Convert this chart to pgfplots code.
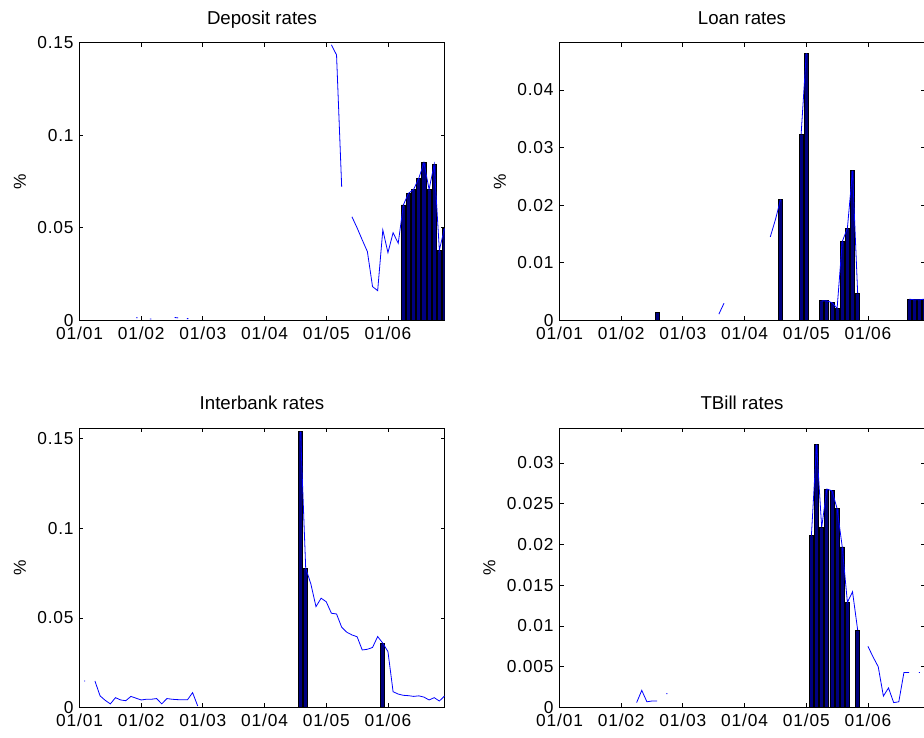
\documentclass[border=0pt]{standalone}
\usepackage{fontspec}
\setmainfont{Liberation Sans}
\newfontfamily\tickfont[LetterSpace=5]{Liberation Sans}
\usepackage{pgfplots}
\usepackage{pgfplotstable}
\pgfplotsset{compat=1.18}

\definecolor{lineblue}{rgb}{0,0,1}
\definecolor{barnavy}{rgb}{0,0,0.5}

% month index: 0 = Jan 2001
\pgfplotstableread{
m v
11.0 0.0015
11.3 0.0015
12 nan
13.7 0.0008
14.0 0.0008
15 nan
18.5 0.0016
19.2 0.0014
20 nan
20.9 0.0010
21.2 0.0010
22 nan
49 0.1488
50 0.1434
51 0.0722
52 nan
53 0.0560
54 0.0500
55 0.0435
56 0.0372
57 0.0183
58 0.0161
59 0.0489
60 0.0366
61 0.0474
62 0.0417
63 0.0624
64 0.0687
65 0.0708
66 0.0768
67 0.0852
68 0.0708
69 0.0843
70 0.0380
71 0.0498
}\depline
\pgfplotstableread{
m v
63 0.0624
64 0.0687
65 0.0708
66 0.0768
67 0.0852
68 0.0708
69 0.0843
70 0.0380
71 0.0498
}\depbars

\pgfplotstableread{
m v
31 0.0011
32 0.0030
33 nan
41 0.0145
42 0.0175
43 0.0210
44 nan
47 0.0323
48 0.0464
49 nan
51 0.0034
52 0.0034
53 0.0031
54 0.0021
55 0.0137
56 0.0160
57 0.0260
58 0.0047
59 nan
68 0.0037
69 0.0036
70 0.0036
71 0.0037
}\loanline
\pgfplotstableread{
m v
19 0.00135
43 0.0210
47 0.0323
48 0.0464
51 0.00344
52 0.00344
53 0.00315
54 0.00205
55 0.01368
56 0.0160
57 0.0260
58 0.00472
68 0.0037
69 0.0036
70 0.0036
71 0.0037
}\loanbars

\pgfplotstableread{
m v
0.9 0.0148
1.1 0.0148
2 nan
3 0.0148
4 0.0065
5 0.0040
6 0.0020
7 0.0055
8 0.0042
9 0.0038
10 0.0062
11 0.0052
12 0.0042
13 0.0046
14 0.0046
15 0.0050
16 0.0020
17 0.0050
18 0.0046
19 0.0044
20 0.0043
21 0.0043
22 0.0083
23 0.0008
24 nan
43 0.1540
44 0.0778
45 0.0690
46 0.0563
47 0.0610
48 0.0590
49 0.0526
50 0.0522
51 0.0448
52 0.0420
53 0.0405
54 0.0395
55 0.0321
56 0.0325
57 0.0335
58 0.0396
59 0.0359
60 0.0312
61 0.0088
62 0.0075
63 0.0068
64 0.0066
65 0.0062
66 0.0065
67 0.0058
68 0.0042
69 0.0055
70 0.0036
71 0.0064
}\ibline
\pgfplotstableread{
m v
43 0.1539
44 0.0778
59 0.0359
}\ibbars

\pgfplotstableread{
m v
15 0.0006
16 0.0021
17 0.0007
18 0.0008
19 0.0008
20 nan
20.8 0.0017
21.0 0.0017
22 nan
49 0.0211
50 0.0323
51 0.0221
52 0.0268
53 0.0266
54 0.0244
55 0.0197
56 0.0129
57 0.0142
58 0.0095
59 nan
60 0.0075
61 0.0062
62 0.0050
63 0.0014
64 0.0024
65 0.0006
66 0.0007
67 0.0043
68 0.0043
69 nan
69.9 0.0043
70.1 0.0043
}\tbline
\pgfplotstableread{
m v
49 0.0211
50 0.0323
51 0.0221
52 0.0268
53 0.0266
54 0.0244
55 0.0197
56 0.0129
58 0.0095
}\tbbars

\pgfplotsset{
  panel/.style={
    scale only axis, width=273.75pt,
    xmin=0, xmax=71, ymin=0,
    xtick={0,12,24,36,48,60},
    xticklabels={01/01,01/02,01/03,01/04,01/05,01/06},
    scaled y ticks=false,
    tick label style={font=\tickfont\fontsize{13}{13}\selectfont},
    xticklabel style={anchor=base, inner sep=0pt, yshift=-14pt},
    yticklabel style={anchor=east, inner sep=0pt, xshift=-4.2pt},
    major tick length=3pt,
    tick style={black, line width=0.6pt},
    axis line style={line width=0.6pt},
    title style={font=\fontsize{14}{14}\selectfont, at={(0.5,1)}, anchor=base, yshift=8pt},
    ylabel={\%},
    ylabel style={font=\tickfont\fontsize{13}{13}\selectfont, at={(ticklabel cs:0.5,5pt)}, anchor=south},
    unbounded coords=jump,
  },
  rate/.style={lineblue, line width=0.6pt, mark=none},
  bars/.style={ybar, bar width=0.8, fill=barnavy, draw=black, line width=0.6pt},
}

\begin{document}
\begin{tikzpicture}
\useasboundingbox (0,0) rectangle (693pt,553.5pt);

\begin{axis}[panel, at={(59.625pt,313.125pt)}, anchor=south west, height=208.35pt,
  ymax=0.15, ytick={0,0.05,0.1,0.15}, yticklabels={0,0.05,0.1,0.15},
  title={Deposit rates}]
  \addplot[bars] table[x=m, y=v] {\depbars};
  \addplot[rate] table[x=m, y=v] {\depline};
\end{axis}

\begin{axis}[panel, at={(419.625pt,313.125pt)}, anchor=south west, height=208.35pt,
  ymax=0.0482, ytick={0,0.01,0.02,0.03,0.04}, yticklabels={0,0.01,0.02,0.03,0.04},
  title={Loan rates}]
  \addplot[bars] table[x=m, y=v] {\loanbars};
  \addplot[rate] table[x=m, y=v] {\loanline};
\end{axis}

\begin{axis}[panel, at={(59.625pt,22.875pt)}, anchor=south west, height=209.625pt,
  ymax=0.156, ytick={0,0.05,0.1,0.15}, yticklabels={0,0.05,0.1,0.15},
  title={Interbank rates}]
  \addplot[bars] table[x=m, y=v] {\ibbars};
  \addplot[rate] table[x=m, y=v] {\ibline};
\end{axis}

\begin{axis}[panel, at={(419.625pt,22.875pt)}, anchor=south west, height=209.625pt,
  ymax=0.0343, ytick={0,0.005,0.01,0.015,0.02,0.025,0.03},
  yticklabels={0,0.005,0.01,0.015,0.02,0.025,0.03},
  title={TBill rates}]
  \addplot[bars] table[x=m, y=v] {\tbbars};
  \addplot[rate] table[x=m, y=v] {\tbline};
\end{axis}
\end{tikzpicture}
\end{document}
